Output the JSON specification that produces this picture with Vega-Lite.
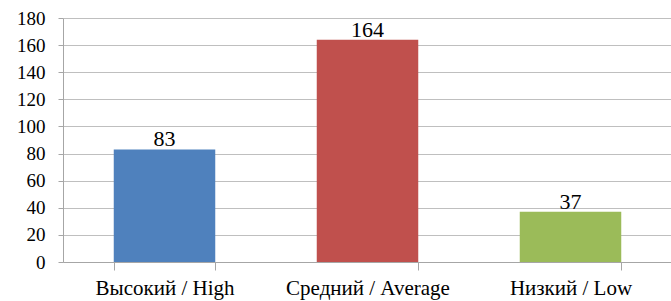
{
  "$schema": "https://vega.github.io/schema/vega-lite/v6.json",
  "width": 609,
  "height": 244,
  "autosize": {"type": "none"},
  "padding": {"left": 63, "top": 18, "right": 0, "bottom": 39},
  "background": "white",
  "config": {"view": {"stroke": null}, "font": "Liberation Serif"},
  "data": {
    "values": [
      {"level": "Высокий / High", "count": 83},
      {"level": "Средний / Average", "count": 164},
      {"level": "Низкий / Low", "count": 37}
    ]
  },
  "encoding": {
    "x": {
      "field": "level",
      "type": "nominal",
      "sort": null,
      "scale": {"paddingInner": 0.5, "paddingOuter": 0.25},
      "axis": {
        "title": null,
        "labelAngle": 0,
        "labelFont": "Liberation Serif",
        "labelFontSize": 21,
        "labelColor": "black",
        "labelPadding": 7,
        "tickBand": "extent",
        "tickSize": 8,
        "tickColor": "#A6A6A6",
        "domainColor": "#A6A6A6",
        "grid": false
      }
    },
    "y": {
      "field": "count",
      "type": "quantitative",
      "scale": {"domain": [0, 180], "nice": false},
      "axis": {
        "title": null,
        "values": [0, 20, 40, 60, 80, 100, 120, 140, 160, 180],
        "labelFont": "Liberation Serif",
        "labelFontSize": 19,
        "labelColor": "black",
        "labelPadding": 13,
        "tickSize": 5,
        "tickColor": "#A6A6A6",
        "domainColor": "#A6A6A6",
        "gridColor": "#BFBFBF",
        "grid": true
      }
    }
  },
  "layer": [
    {
      "mark": {"type": "bar"},
      "encoding": {
        "color": {
          "field": "level",
          "type": "nominal",
          "sort": null,
          "scale": {"range": ["#4F81BD", "#C0504D", "#9BBB59"]},
          "legend": null
        }
      }
    },
    {
      "mark": {"type": "text", "baseline": "alphabetic", "dy": -3, "font": "Liberation Serif", "fontSize": 22, "color": "black"},
      "encoding": {"text": {"field": "count", "type": "quantitative"}}
    }
  ]
}
